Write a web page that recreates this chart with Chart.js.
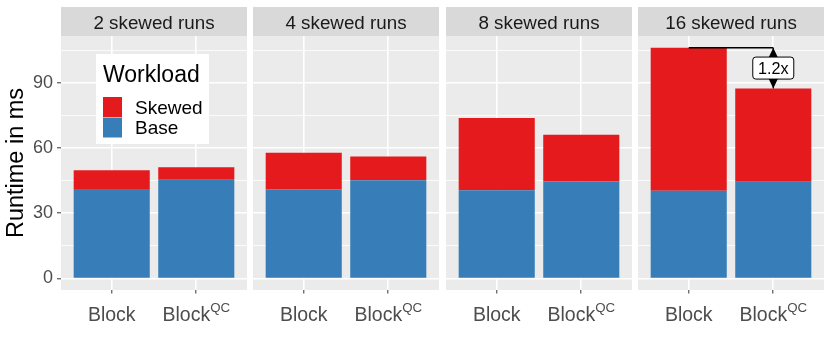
<!DOCTYPE html>
<html>
<head>
<meta charset="utf-8">
<script src="https://cdn.jsdelivr.net/npm/chart.js@4"></script>
<style>
body { margin: 0; background: #fff; }
#wrap { position: relative; width: 830px; height: 339px; }
canvas { position: absolute; top: 0; }
</style>
</head>
<body>
<div id="wrap">
  <canvas id="c0" width="247" height="339" style="left:0px"></canvas>
  <canvas id="c1" width="186" height="339" style="left:253px"></canvas>
  <canvas id="c2" width="186" height="339" style="left:446px"></canvas>
  <canvas id="c3" width="186" height="339" style="left:638px"></canvas>
</div>
<script>
const panels = ['2 skewed runs', '4 skewed runs', '8 skewed runs', '16 skewed runs'];
const categories = ['Block', 'Block'];
const superscripts = ['', 'QC'];
const baseBlock = [41.1, 41.0, 40.6, 40.3];
const baseQC = [45.4, 45.2, 44.6, 44.5];
const skewBlock = [8.7, 16.8, 33.2, 65.8];
const skewQC = [5.7, 10.9, 21.5, 42.9];
const yTicks = [0, 15, 30, 45, 60, 75, 90, 105];

const FONT = '"Liberation Sans", Arial, sans-serif';
const BLUE = '#377EB8', RED = '#E41A1C';

// grey panel + facet strip
const panelBg = {
    id: 'panelBg',
    beforeDraw(chart, args, opts) {
        const { ctx, chartArea: a } = chart;
        ctx.save();
        ctx.fillStyle = '#EBEBEB';
        ctx.fillRect(a.left, a.top, a.right - a.left, a.bottom - a.top);
        ctx.fillStyle = '#D9D9D9';
        ctx.fillRect(a.left, 7, a.right - a.left, a.top - 7);
        ctx.fillStyle = '#1A1A1A';
        ctx.font = '18.8px ' + FONT;
        ctx.textAlign = 'center';
        ctx.textBaseline = 'alphabetic';
        ctx.fillText(opts.text, (a.left + a.right) / 2, 28.5);
        ctx.restore();
    }
};

// x labels with superscript
const xLabels = {
    id: 'xLabels',
    afterDraw(chart) {
        const { ctx } = chart;
        const x = chart.scales.x;
        ctx.save();
        ctx.fillStyle = '#4D4D4D';
        ctx.textBaseline = 'alphabetic';
        ctx.textAlign = 'left';
        categories.forEach((lab, k) => {
            const px = x.getPixelForValue(k + 1);
            ctx.font = '19.5px ' + FONT;
            const w1 = ctx.measureText(lab).width;
            ctx.font = '13.3px ' + FONT;
            const w2 = superscripts[k] ? ctx.measureText(superscripts[k]).width : 0;
            const start = px - (w1 + w2) / 2;
            ctx.font = '19.5px ' + FONT;
            ctx.fillText(lab, start, 321);
            if (superscripts[k]) {
                ctx.font = '13.3px ' + FONT;
                ctx.fillText(superscripts[k], start + w1, 311.5);
            }
        });
        ctx.restore();
    }
};

const legendBox = {
    id: 'legendBox',
    afterDraw(chart) {
        const { ctx } = chart;
        ctx.save();
        ctx.fillStyle = '#fff';
        ctx.fillRect(96, 54, 113, 90);
        ctx.fillStyle = '#000';
        ctx.font = '23px ' + FONT;
        ctx.textBaseline = 'alphabetic';
        ctx.fillText('Workload', 103, 81.7);
        const items = [...chart.data.datasets].reverse();
        items.forEach((ds, k) => {
            const top = 97 + k * 20.5;
            ctx.fillStyle = ds.backgroundColor;
            ctx.fillRect(103, top, 19, 20);
            ctx.fillStyle = '#000';
            ctx.font = '19px ' + FONT;
            ctx.fillText(ds.label, 135, 114 + k * 20);
        });
        ctx.restore();
    }
};

// ratio arrow on last panel
const ratioMark = {
    id: 'ratioMark',
    afterDatasetsDraw(chart) {
        const { ctx } = chart;
        const x = chart.scales.x, y = chart.scales.y;
        const i = panels.length - 1;
        const hi = baseBlock[i] + skewBlock[i];
        const lo = baseQC[i] + skewQC[i];
        const x1 = x.getPixelForValue(1), x2 = x.getPixelForValue(2);
        const y1 = y.getPixelForValue(hi), y2 = y.getPixelForValue(lo);
        const mid = (y1 + y2) / 2;
        ctx.save();
        ctx.strokeStyle = '#000';
        ctx.fillStyle = '#000';
        ctx.lineWidth = 1.3;
        ctx.beginPath();
        ctx.moveTo(x1, y1); ctx.lineTo(x2, y1);
        ctx.moveTo(x2, y1); ctx.lineTo(x2, y2);
        ctx.stroke();
        ctx.beginPath();
        ctx.moveTo(x2, y1); ctx.lineTo(x2 - 4.5, y1 + 9.5); ctx.lineTo(x2 + 4.5, y1 + 9.5); ctx.closePath();
        ctx.moveTo(x2, y2); ctx.lineTo(x2 - 4.5, y2 - 9.5); ctx.lineTo(x2 + 4.5, y2 - 9.5); ctx.closePath();
        ctx.fill();
        const bw = 41, bh = 22;
        ctx.fillStyle = '#fff';
        ctx.lineWidth = 1;
        ctx.beginPath();
        ctx.roundRect(x2 - bw / 2, mid - bh / 2, bw, bh, 3);
        ctx.fill();
        ctx.stroke();
        ctx.fillStyle = '#000';
        ctx.font = '16.2px ' + FONT;
        ctx.textAlign = 'center';
        ctx.textBaseline = 'middle';
        ctx.fillText((hi / lo).toFixed(1) + 'x', x2, mid + 1);
        ctx.restore();
    }
};

function makeChart(i) {
    const first = i === 0;
    const plugins = [panelBg, xLabels];
    if (first) plugins.push(legendBox);
    if (i === panels.length - 1) plugins.push(ratioMark);

    return new Chart(document.getElementById('c' + i), {
        type: 'bar',
        data: {
            datasets: [
                {
                    label: 'Base',
                    data: [{ x: 1, y: baseBlock[i] }, { x: 2, y: baseQC[i] }],
                    backgroundColor: BLUE,
                    grouped: false,
                    barPercentage: 0.9,
                    categoryPercentage: 1,
                    borderWidth: 0
                },
                {
                    label: 'Skewed',
                    data: [{ x: 1, y: skewBlock[i] }, { x: 2, y: skewQC[i] }],
                    backgroundColor: RED,
                    grouped: false,
                    barPercentage: 0.9,
                    categoryPercentage: 1,
                    borderWidth: 0
                }
            ]
        },
        options: {
            responsive: false,
            animation: false,
            devicePixelRatio: 1,
            layout: { padding: { top: 36, left: 0, right: 0, bottom: 0 } },
            plugins: {
                legend: { display: false },
                tooltip: { enabled: false },
                panelBg: { text: panels[i] }
            },
            scales: {
                x: {
                    type: 'linear',
                    min: 0.4,
                    max: 2.6,
                    offset: false,
                    afterBuildTicks: s => { s.ticks = [{ value: 1 }, { value: 2 }]; },
                    afterFit: s => { s.height = 49; },
                    border: { display: false },
                    grid: { offset: false, color: '#fff', lineWidth: 1.6, drawTicks: true, tickLength: 3.5, tickColor: '#333', tickWidth: 1 },
                    ticks: { display: false }
                },
                y: {
                    type: 'linear',
                    stacked: true,
                    min: -5.3,
                    max: 111.5,
                    afterBuildTicks: s => { s.ticks = yTicks.map(v => ({ value: v })); },
                    afterFit: s => { s.width = first ? 61 : 0; },
                    border: { display: false },
                    grid: {
                        color: '#fff',
                        lineWidth: c => (c.tick && c.tick.value % 30 === 0) ? 1.6 : 0.8,
                        drawTicks: first,
                        tickLength: 4,
                        tickWidth: 1,
                        tickColor: c => (c.tick && c.tick.value % 30 === 0) ? '#333' : 'rgba(0,0,0,0)'
                    },
                    ticks: {
                        display: first,
                        padding: 4,
                        color: '#4D4D4D',
                        font: { size: 18, family: FONT },
                        callback: v => v % 30 === 0 ? v : ''
                    },
                    title: {
                        display: first,
                        text: 'Runtime in ms',
                        color: '#000',
                        font: { size: 23.5, family: FONT },
                        padding: { top: 2, bottom: 0 }
                    }
                }
            }
        },
        plugins: plugins
    });
}

panels.forEach((p, i) => makeChart(i));
</script>
</body>
</html>
